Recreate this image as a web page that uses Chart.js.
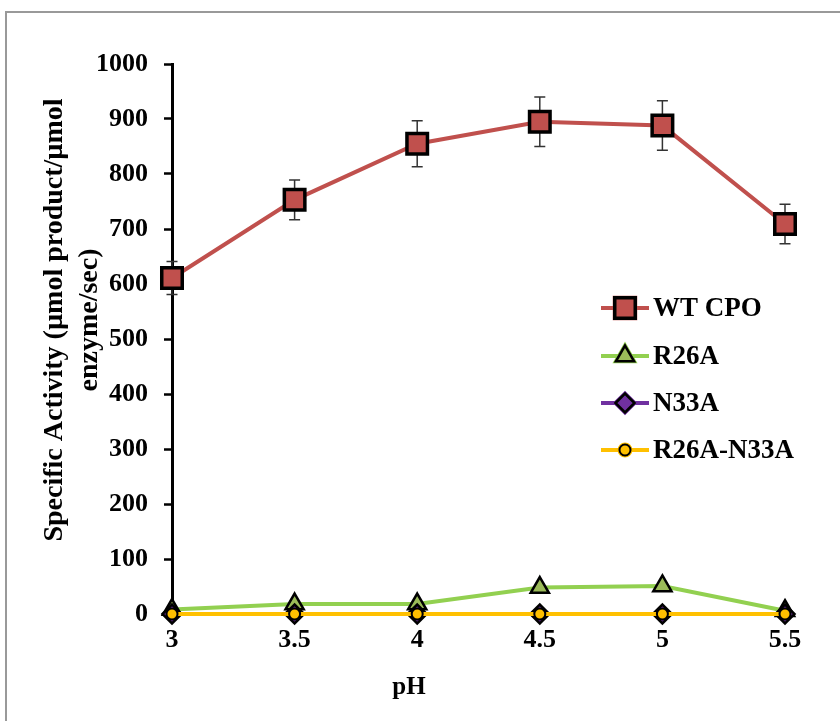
<!DOCTYPE html>
<html>
<head>
<meta charset="utf-8">
<script src="https://cdn.jsdelivr.net/npm/chart.js@4.4.1/dist/chart.umd.min.js"></script>
<style>
  body { margin: 0; background: #fff; }
  #wrap { position: relative; width: 840px; height: 721px; }
</style>
</head>
<body>
<div id="wrap"><canvas id="phChart" width="840" height="721"></canvas></div>
<script>
// pH values along the bottom
var phLabels = ["3", "3.5", "4", "4.5", "5", "5.5"];

// specific activity per series
var wtCpo = [611, 753, 855, 895, 888, 709];
var wtCpoErr = [30, 36, 42, 45, 45, 36];
var r26a = [8, 18, 18, 48, 51, 6];
var n33a = [0, 0, 0, 0, 0, 0];
var r26aN33a = [0, 0, 0, 0, 0, 0];

var seriesNames = ["WT CPO", "R26A", "N33A", "R26A-N33A"];
var yTitleLines = ["Specific Activity (\u00b5mol product/\u00b5mol", "enzyme/sec)"];
var xTitle = "pH";

var serif = "'Liberation Serif', 'Times New Roman', serif";

// error bars on WT CPO, drawn under the markers
var errorBars = {
  id: "errorBars",
  beforeDatasetsDraw: function (chart) {
    var ctx = chart.ctx;
    var xs = chart.scales.x;
    var ys = chart.scales.y;
    ctx.save();
    ctx.strokeStyle = "#333";
    ctx.lineWidth = 1.5;
    for (var i = 0; i < wtCpo.length; ++i) {
      var x = xs.getPixelForValue(i);
      var top = ys.getPixelForValue(wtCpo[i] + wtCpoErr[i]);
      var bot = ys.getPixelForValue(wtCpo[i] - wtCpoErr[i]);
      ctx.beginPath();
      ctx.moveTo(x, top); ctx.lineTo(x, bot);
      ctx.moveTo(x - 5.5, top); ctx.lineTo(x + 5.5, top);
      ctx.moveTo(x - 5.5, bot); ctx.lineTo(x + 5.5, bot);
      ctx.stroke();
    }
    ctx.restore();
  }
};

// frame, axis titles and the legend box inside the plot
var extras = {
  id: "extras",
  afterDraw: function (chart) {
    var ctx = chart.ctx;
    ctx.save();
    ctx.strokeStyle = "#999";
    ctx.lineWidth = 2;
    ctx.strokeRect(6, 12, 900, 900);

    ctx.fillStyle = "#000";
    ctx.font = "bold 25px " + serif;
    ctx.textAlign = "center";
    ctx.textBaseline = "middle";
    ctx.fillText(xTitle, 409, 688);

    ctx.save();
    ctx.font = "bold 28px " + serif;
    ctx.translate(55, 320);
    ctx.rotate(-Math.PI / 2);
    ctx.fillText(yTitleLines[0], 0, 0);
    ctx.fillText(yTitleLines[1], 0, 35);
    ctx.restore();

    var rows = [308, 356, 403, 450];
    var metas = chart.data.datasets;
    ctx.font = "bold 27px " + serif;
    ctx.textAlign = "left";
    for (var i = 0; i < rows.length; ++i) {
      var ds = metas[i];
      var y = rows[i];
      ctx.strokeStyle = ds.borderColor;
      ctx.lineWidth = 4;
      ctx.beginPath();
      ctx.moveTo(601, y); ctx.lineTo(649, y);
      ctx.stroke();
      Chart.helpers.drawPoint(ctx, {
        pointStyle: ds.pointStyle,
        radius: ds.pointRadius,
        borderWidth: ds.pointBorderWidth,
        rotation: 0
      }, 625, y);
      ctx.fillStyle = ds.pointBackgroundColor;
      ctx.strokeStyle = "#000";
      ctx.lineWidth = ds.pointBorderWidth;
      ctx.fill();
      ctx.stroke();
      ctx.fillStyle = "#000";
      ctx.fillText(seriesNames[i], 653, y + 1);
    }
    ctx.restore();
  }
};

function makeSeries(name, values, line, fill, style, radius, bw, order) {
  return {
    label: name,
    data: values,
    borderColor: line,
    borderWidth: 4,
    pointStyle: style,
    pointRadius: radius,
    pointHoverRadius: radius,
    pointBackgroundColor: fill,
    pointBorderColor: "#000",
    pointBorderWidth: bw,
    tension: 0,
    clip: false,
    order: order
  };
}

var ctx = document.getElementById("phChart");
var phChart = new Chart(ctx, {
  type: "line",
  data: {
    labels: phLabels,
    datasets: [
      makeSeries(seriesNames[0], wtCpo, "#C0504D", "#C0504D", "rect", 14.5, 3.5, 3),
      makeSeries(seriesNames[1], r26a, "#92D050", "#9BBB59", "triangle", 10.5, 2.5, 2),
      makeSeries(seriesNames[2], n33a, "#7030A0", "#7030A0", "rectRot", 9.5, 2.5, 1),
      makeSeries(seriesNames[3], r26aN33a, "#FFC000", "#FFC000", "circle", 5.5, 2, 0)
    ]
  },
  options: {
    responsive: false,
    animation: false,
    layout: { padding: { left: 10, right: 55, top: 64, bottom: 0 } },
    plugins: {
      legend: { display: false },
      tooltip: { enabled: false }
    },
    scales: {
      x: {
        type: "category",
        offset: false,
        afterFit: function (s) { s.height = 107; },
        grid: { display: false, drawTicks: false },
        border: { display: true, color: "#404040", width: 2 },
        ticks: {
          padding: 11,
          color: "#000",
          font: { family: serif, size: 26, weight: "bold" }
        }
      },
      y: {
        min: 0,
        max: 1000,
        afterFit: function (s) { s.width = 162; },
        grid: {
          display: true,
          drawOnChartArea: false,
          drawTicks: true,
          tickLength: 8,
          tickColor: "#000",
          tickWidth: 2.5
        },
        border: { display: true, color: "#000", width: 3 },
        ticks: {
          stepSize: 50,
          padding: 16,
          color: "#000",
          font: { family: serif, size: 26, weight: "bold" },
          callback: function (v) { return v % 100 === 0 ? String(v) : ""; }
        }
      }
    }
  },
  plugins: [errorBars, extras]
});
</script>
</body>
</html>
